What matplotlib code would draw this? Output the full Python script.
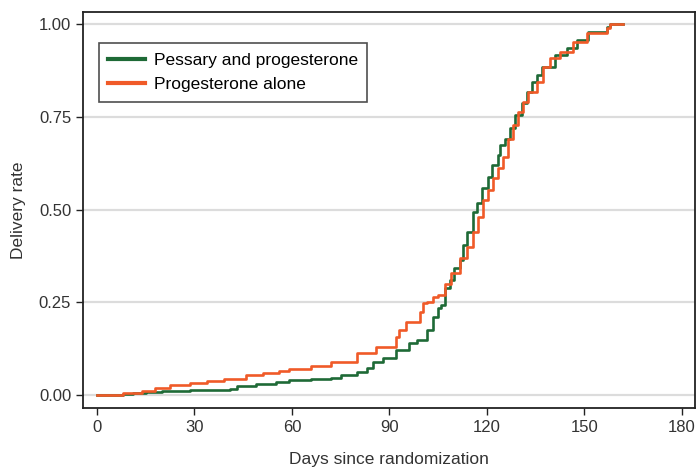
"""Cumulative delivery rate by treatment arm (step curves)."""
import matplotlib
matplotlib.use("Agg")
import matplotlib.pyplot as plt

# values (day, cumulative delivery rate)
pessary_days = [0, 8, 11, 15, 20, 28.6, 41, 43, 49, 55, 59, 66, 72, 75, 80, 83, 85, 88, 92,
                96, 98.5, 101.5, 103.4, 105, 106, 107, 108.6, 110, 111.7, 112.6, 114, 115.7,
                117, 118.5, 120.3, 121.5, 123.4, 124, 125.5, 127, 128.6, 130.8, 132.3, 133.8,
                135.4, 137, 141, 144.6, 147.7, 151, 157, 158, 162]
pessary_rate = [0, 0.003, 0.005, 0.008, 0.011, 0.013, 0.016, 0.024, 0.030, 0.035, 0.040,
                0.043, 0.046, 0.055, 0.062, 0.073, 0.089, 0.100, 0.121, 0.140, 0.148, 0.175,
                0.210, 0.234, 0.243, 0.290, 0.310, 0.342, 0.364, 0.404, 0.440, 0.493, 0.517,
                0.558, 0.588, 0.620, 0.647, 0.674, 0.690, 0.720, 0.755, 0.787, 0.817, 0.844,
                0.862, 0.884, 0.916, 0.935, 0.957, 0.978, 0.992, 1.0, 1.0]

prog_days = [0, 8, 14, 18, 22.5, 28.6, 34, 39, 46, 51, 56, 59, 66, 72, 80, 86, 92, 93, 95,
             99.4, 100.4, 101.5, 103.4, 105, 107, 109, 111.7, 113.8, 115.7, 117.2, 118.8,
             120.3, 121.8, 123.4, 125, 126.6, 128, 129.5, 131, 132.6, 135.4, 137.2, 139.4,
             142.5, 146.5, 150.7, 157, 158, 162]
prog_rate = [0, 0.005, 0.011, 0.019, 0.027, 0.032, 0.037, 0.043, 0.054, 0.059, 0.066, 0.071,
             0.078, 0.089, 0.113, 0.130, 0.156, 0.175, 0.197, 0.224, 0.248, 0.252, 0.264,
             0.270, 0.300, 0.330, 0.369, 0.400, 0.440, 0.480, 0.526, 0.553, 0.585, 0.612,
             0.642, 0.690, 0.728, 0.762, 0.790, 0.817, 0.844, 0.884, 0.908, 0.924, 0.951,
             0.976, 0.990, 1.0, 1.0]

x_ticks = [0, 30, 60, 90, 120, 150, 180]
y_ticks = [0.0, 0.25, 0.5, 0.75, 1.0]
y_ticklabels = ["0.00", "0.25", "0.50", "0.75", "1.00"]

GREEN = "#1e6a36"
ORANGE = "#f05a28"

plt.rcParams["font.family"] = ["Liberation Sans", "DejaVu Sans"]

fig = plt.figure(figsize=(6.97, 4.67), dpi=100)
ax = fig.add_axes([0.119, 0.126, 0.878, 0.848])

for y in y_ticks:
    ax.axhline(y, color="#dcdcdc", lw=1.6, zorder=0)

ax.plot(pessary_days, pessary_rate, drawstyle="steps-post", color=GREEN, lw=1.9,
        label="Pessary and progesterone")
ax.plot(prog_days, prog_rate, drawstyle="steps-post", color=ORANGE, lw=1.9,
        label="Progesterone alone")

ax.set_xlim(-4.3, 184)
ax.set_ylim(-0.035, 1.032)
ax.set_xticks(x_ticks)
ax.set_yticks(y_ticks)
ax.set_yticklabels(y_ticklabels)
ax.tick_params(direction="out", length=5, width=1, labelsize=12, colors="#222222",
               labelcolor="#333333")
for s in ax.spines.values():
    s.set_linewidth(1.3)
    s.set_color("#222222")

ax.set_xlabel("Days since randomization", fontsize=12.5, color="#333333", labelpad=12)
ax.set_ylabel("Delivery rate", fontsize=12.5, color="#333333", labelpad=9)

leg = ax.legend(loc="upper left", bbox_to_anchor=(0.026, 0.922), borderaxespad=0,
                fontsize=12.5, frameon=True, fancybox=False, handlelength=2.1,
                handletextpad=0.5, borderpad=0.55, labelspacing=0.55)
leg.get_frame().set_edgecolor("#222222")
leg.get_frame().set_linewidth(1.2)
for line in leg.get_lines():
    line.set_linewidth(3)

fig.savefig("out.png", dpi=100)
